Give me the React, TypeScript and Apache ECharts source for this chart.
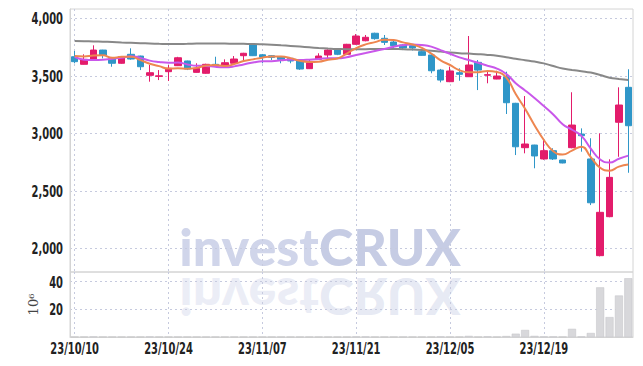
import React, { useEffect, useRef } from "react";
import * as echarts from "echarts";

const dates = [
  "23/10/10","23/10/11","23/10/12","23/10/13","23/10/16","23/10/17","23/10/18","23/10/19","23/10/20","23/10/23",
  "23/10/24","23/10/25","23/10/26","23/10/27","23/10/30","23/10/31","23/11/01","23/11/02","23/11/03","23/11/06",
  "23/11/07","23/11/08","23/11/09","23/11/10","23/11/13","23/11/14","23/11/15","23/11/16","23/11/17","23/11/20",
  "23/11/21","23/11/22","23/11/23","23/11/24","23/11/27","23/11/28","23/11/29","23/11/30","23/12/01","23/12/04",
  "23/12/05","23/12/06","23/12/07","23/12/08","23/12/11","23/12/12","23/12/13","23/12/14","23/12/15","23/12/18",
  "23/12/19","23/12/20","23/12/21","23/12/22","23/12/26","23/12/27","23/12/28","24/01/02","24/01/03","24/01/04",
];

const opens = [
  3666,3600,3635,3724,3648,3609,3687,3672,3504,3495,
  3536,3588,3629,3530,3522,3600,3588,3609,3675,3768,
  3683,3675,3666,3652,3637,3562,3643,3681,3733,3687,
  3774,3805,3870,3826,3794,3768,3762,3710,3681,3550,
  3449,3527,3492,3617,3505,3472,3492,3261,2875,2898,
  2777,2849,2768,2875,2994,2777,1936,2275,3096,3400,
];
const closes = [
  3623,3643,3724,3681,3609,3666,3646,3579,3527,3500,
  3565,3657,3559,3565,3600,3585,3614,3646,3696,3675,
  3661,3660,3643,3629,3559,3614,3672,3724,3687,3774,
  3846,3835,3823,3791,3762,3742,3742,3678,3544,3463,
  3542,3513,3594,3550,3510,3498,3266,2883,2907,2803,
  2849,2777,2742,3072,2979,2396,2313,2617,3246,3066,
];
const lows = [
  3609,3598,3630,3652,3579,3605,3640,3550,3449,3463,
  3455,3585,3550,3528,3518,3579,3585,3605,3637,3672,
  3609,3637,3609,3609,3552,3559,3640,3655,3680,3680,
  3770,3800,3814,3768,3730,3724,3720,3675,3522,3443,
  3445,3457,3490,3376,3435,3470,3168,2811,2826,2696,
  2770,2768,2739,2870,2840,2376,1930,2270,2796,2657,
];
const highs = [
  3716,3687,3765,3726,3655,3670,3739,3675,3594,3550,
  3594,3665,3632,3609,3605,3666,3643,3672,3700,3770,
  3690,3680,3670,3655,3640,3643,3696,3730,3740,3778,
  3863,3855,3875,3855,3811,3775,3770,3730,3690,3560,
  3580,3565,3846,3637,3550,3544,3536,3265,3324,2900,
  2942,2870,2770,3357,3043,2957,3000,2774,3400,3557,
];
const volumes = [
  0.2,0.2,0.3,0.2,0.2,0.2,0.2,0.2,0.3,0.2,
  0.2,0.2,0.2,0.2,0.2,0.2,0.2,0.2,0.2,0.2,
  0.2,0.2,0.2,0.2,0.2,0.2,0.2,0.2,0.2,0.2,
  0.3,0.3,0.2,0.2,0.2,0.2,0.2,0.2,0.2,0.3,
  0.2,0.2,0.8,0.2,0.4,0.2,0.7,2.4,5.1,0.8,
  0.3,0.3,0.2,5.9,0.3,2.9,35.9,14.4,30.0,42.5,
];
const ma5 = [
  3672,3668,3676,3678,3656,3665,3665,3636,3605,3584,
  3563,3566,3562,3569,3589,3593,3585,3602,3628,3643,
  3658,3668,3667,3654,3630,3621,3623,3640,3651,3694,
  3741,3773,3793,3814,3811,3791,3772,3743,3694,3634,
  3594,3548,3531,3532,3542,3533,3484,3341,3213,3071,
  2942,2844,2816,2849,2884,2793,2700,2675,2710,2728,
];
const ma10 = [
  3664,3640,3637,3640,3649,3656,3670,3656,3632,3620,
  3614,3615,3599,3587,3586,3578,3575,3582,3599,3616,
  3626,3626,3635,3641,3637,3640,3646,3653,3652,3662,
  3681,3698,3716,3733,3753,3766,3773,3768,3754,3723,
  3692,3660,3637,3613,3588,3563,3516,3436,3373,3307,
  3237,3164,3079,3031,2978,2867,2772,2746,2779,2806,
];
const maLong = [
  3803,3801,3799,3797,3794,3790,3787,3784,3781,3778,
  3776,3776,3778,3780,3781,3781,3780,3779,3778,3777,
  3774,3770,3765,3760,3754,3748,3742,3737,3733,3731,
  3731,3732,3733,3734,3733,3731,3728,3724,3719,3711,
  3703,3697,3693,3688,3682,3674,3662,3648,3636,3624,
  3608,3585,3563,3551,3540,3528,3507,3484,3473,3463,
];
const priceTicks = [2000, 2500, 3000, 3500, 4000];
const volumeTicks = [20, 40];
const dateLabelEvery = 10;

const LABEL_FONT = "bold 16px 'DejaVu Sans Condensed', 'DejaVu Sans', sans-serif";
const LABEL_SCALE = 0.69;
const GRID_LINE = { show: true, lineStyle: { color: "#c6cade", type: [2, 3] as any, width: 1 } };

const wmRich = {
  a: { fill: "#d0d5ea", color: "#d0d5ea", fontFamily: "Lato", fontWeight: 900, fontSize: 52 },
  b: { fill: "#c6cce4", color: "#c6cce4", fontFamily: "Lato", fontWeight: 900, fontSize: 52 },
};

export default function App() {
  const ref = useRef<HTMLDivElement>(null);
  useEffect(() => {
    document.body.style.margin = "0";
    if (!ref.current) return;
    const chart = echarts.init(ref.current, null, { renderer: "svg" });
    const candle = opens.map((o, i) => [o, closes[i], lows[i], highs[i]]);
    chart.setOption({
      animation: false,
      backgroundColor: "#fff",
      grid: [
        { left: 70, right: 10, top: 9, height: 263, show: true, borderColor: "#d4d4d4", borderWidth: 1 },
        { left: 70, right: 10, top: 272, height: 65, show: true, borderColor: "#d4d4d4", borderWidth: 1 },
      ],
      xAxis: [
        {
          type: "category",
          gridIndex: 0,
          data: dates,
          boundaryGap: true,
          axisLine: { show: false },
          axisTick: { show: false, interval: dateLabelEvery - 1, alignWithLabel: true },
          axisLabel: { show: false, interval: dateLabelEvery - 1 },
          splitLine: { ...GRID_LINE, interval: dateLabelEvery - 1, alignWithLabel: true },
        },
        {
          type: "category",
          gridIndex: 1,
          data: dates,
          boundaryGap: true,
          axisLine: { show: true, lineStyle: { color: "#d4d4d4" } },
          axisTick: { show: false, interval: dateLabelEvery - 1, alignWithLabel: true },
          axisLabel: { show: false, interval: dateLabelEvery - 1 },
          splitLine: { ...GRID_LINE, interval: dateLabelEvery - 1, alignWithLabel: true },
        },
      ],
      yAxis: [
        {
          type: "value",
          gridIndex: 0,
          min: 1794,
          max: 4081,
          axisLine: { show: true, lineStyle: { color: "#d4d4d4" } },
          axisTick: { show: false, customValues: priceTicks },
          axisLabel: { show: false, customValues: priceTicks },
          splitLine: GRID_LINE,
        },
        {
          type: "value",
          gridIndex: 1,
          min: 0,
          max: 47,
          name: "10⁶",
          nameLocation: "middle",
          nameRotate: 90,
          nameGap: 30,
          nameTextStyle: { fontFamily: "'DejaVu Serif', serif", fontSize: 13, color: "#444" },
          axisLine: { show: true, lineStyle: { color: "#d4d4d4" } },
          axisTick: { show: false, customValues: volumeTicks },
          axisLabel: { show: false, customValues: volumeTicks },
          splitLine: GRID_LINE,
        },
      ],
      series: [
        {
          type: "candlestick",
          name: "price",
          xAxisIndex: 0,
          yAxisIndex: 0,
          data: candle,
          barWidth: 7,
          itemStyle: {
            color: "#e31c6b",
            color0: "#2f96c8",
            borderColor: "#e31c6b",
            borderColor0: "#2f96c8",
            borderWidth: 1,
          },
          z: 2,
        },
        { type: "line", name: "MA long", data: maLong, smooth: true, symbol: "none", lineStyle: { color: "#888", width: 2 }, z: 3 },
        { type: "line", name: "MA10", data: ma10, smooth: true, symbol: "none", lineStyle: { color: "#c957ea", width: 2 }, z: 3 },
        { type: "line", name: "MA5", data: ma5, smooth: true, symbol: "none", lineStyle: { color: "#ee8650", width: 2 }, z: 4 },
        {
          type: "bar",
          name: "volume",
          xAxisIndex: 1,
          yAxisIndex: 1,
          data: volumes,
          barWidth: 8,
          itemStyle: { color: "#d8d8db", borderColor: "#c2c2c6", borderWidth: 0.5 },
        },
      ],
    });

    // Axis labels drawn as condensed text at positions given by the chart's own scales
    const labels: any[] = [];
    const xLabelY = 348.5;
    dates.forEach((d, i) => {
      if (i % dateLabelEvery !== 0) return;
      const px = chart.convertToPixel({ xAxisIndex: 1 } as any, d) as any;
      labels.push({
        type: "text",
        x: px,
        y: xLabelY,
        scaleX: LABEL_SCALE,
        silent: true,
        style: { text: d, font: LABEL_FONT, fill: "#222", align: "center", verticalAlign: "middle", textAlign: "center", textVerticalAlign: "middle" },
      });
    });
    priceTicks.forEach((v) => {
      const py = chart.convertToPixel({ yAxisIndex: 0 } as any, v) as any;
      labels.push({
        type: "text",
        x: 63,
        y: py,
        scaleX: LABEL_SCALE,
        silent: true,
        style: { text: v.toLocaleString("en-US"), font: LABEL_FONT, fill: "#222", align: "right", verticalAlign: "middle", textAlign: "right", textVerticalAlign: "middle" },
      });
    });
    volumeTicks.forEach((v) => {
      const py = chart.convertToPixel({ yAxisIndex: 1 } as any, v) as any;
      labels.push({
        type: "text",
        x: 63,
        y: py,
        scaleX: LABEL_SCALE,
        silent: true,
        style: { text: String(v), font: LABEL_FONT, fill: "#222", align: "right", verticalAlign: "middle", textAlign: "right", textVerticalAlign: "middle" },
      });
    });

    chart.setOption({
      graphic: [
        {
          type: "text",
          x: 320,
          y: 272,
          z: -10,
          silent: true,
          style: { text: "{a|invest}{b|CRUX}", align: "center", verticalAlign: "bottom", textAlign: "center", textVerticalAlign: "bottom", rich: wmRich },
        },
        {
          type: "text",
          x: 320,
          y: 272,
          scaleY: -1,
          z: -10,
          silent: true,
          style: { text: "{a|invest}{b|CRUX}", align: "center", verticalAlign: "bottom", textAlign: "center", textVerticalAlign: "bottom", opacity: 0.42, rich: wmRich },
        },
        ...labels,
      ],
    });
    return () => chart.dispose();
  }, []);
  return <div ref={ref} style={{ width: 643, height: 366 }} />;
}
